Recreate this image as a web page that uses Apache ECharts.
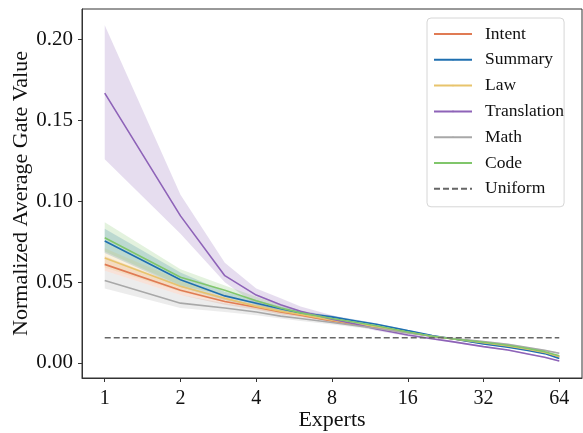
<!DOCTYPE html>
<html>
<head>
<meta charset="utf-8">
<script src="https://cdn.jsdelivr.net/npm/echarts@6/dist/echarts.min.js"></script>
<style>
  html, body { margin: 0; padding: 0; background: #fff; }
  #chart { width: 583px; height: 433px; }
</style>
</head>
<body>
<div id="chart"></div>
<script>
// expert rank (x) and the tick labels on the log2 axis
const experts = [1, 2, 3, 4, 5, 6, 8, 10, 12, 16, 20, 24, 32, 40, 48, 56, 64];
const xTicks = [1, 2, 4, 8, 16, 32, 64];
const yTicks = [0, 0.05, 0.1, 0.15, 0.2];
const uniformValue = 1 / 64;

// mean gate value per task, with lower / upper band
const intentMean = [0.061, 0.045, 0.038, 0.0345, 0.0315, 0.0295, 0.026, 0.0235, 0.022, 0.0188, 0.0165, 0.015, 0.0123, 0.0103, 0.0083, 0.0063, 0.0038];
const intentLow = [0.057, 0.042, 0.036, 0.033, 0.030, 0.0285, 0.0253, 0.023, 0.0215, 0.0185, 0.0162, 0.0147, 0.0120, 0.0100, 0.0080, 0.0060, 0.0034];
const intentHigh = [0.066, 0.048, 0.040, 0.036, 0.033, 0.0305, 0.0267, 0.024, 0.0225, 0.0191, 0.0168, 0.0153, 0.0126, 0.0106, 0.0086, 0.0066, 0.0042];

const summaryMean = [0.0755, 0.0515, 0.0415, 0.037, 0.0335, 0.031, 0.0285, 0.026, 0.024, 0.020, 0.017, 0.015, 0.0118, 0.0098, 0.0078, 0.0058, 0.0028];
const summaryLow = [0.068, 0.047, 0.039, 0.035, 0.032, 0.0298, 0.0277, 0.0253, 0.0234, 0.0196, 0.0167, 0.0147, 0.0115, 0.0095, 0.0075, 0.0055, 0.0024];
const summaryHigh = [0.083, 0.056, 0.044, 0.039, 0.035, 0.0322, 0.0293, 0.0267, 0.0246, 0.0204, 0.0173, 0.0153, 0.0121, 0.0101, 0.0081, 0.0061, 0.0032];

const lawMean = [0.065, 0.0475, 0.040, 0.035, 0.032, 0.030, 0.0265, 0.024, 0.0225, 0.019, 0.0165, 0.015, 0.0125, 0.0105, 0.0085, 0.0065, 0.0040];
const lawLow = [0.059, 0.044, 0.0375, 0.0335, 0.0305, 0.0288, 0.0257, 0.0234, 0.022, 0.0186, 0.0162, 0.0147, 0.0122, 0.0102, 0.0082, 0.0062, 0.0036];
const lawHigh = [0.071, 0.051, 0.0425, 0.0365, 0.0335, 0.0312, 0.0273, 0.0246, 0.023, 0.0194, 0.0168, 0.0153, 0.0128, 0.0108, 0.0088, 0.0068, 0.0044];

const translationMean = [0.167, 0.091, 0.054, 0.042, 0.036, 0.032, 0.027, 0.024, 0.021, 0.0173, 0.0150, 0.0132, 0.0101, 0.0080, 0.0056, 0.0035, 0.0012];
const translationLow = [0.126, 0.080, 0.050, 0.036, 0.033, 0.0295, 0.025, 0.0228, 0.020, 0.0166, 0.0144, 0.0127, 0.0097, 0.0076, 0.0052, 0.0031, 0.0008];
const translationHigh = [0.209, 0.104, 0.062, 0.046, 0.040, 0.035, 0.0295, 0.0255, 0.0222, 0.018, 0.0156, 0.0137, 0.0105, 0.0084, 0.0060, 0.0039, 0.0016];

const mathMean = [0.051, 0.037, 0.034, 0.0315, 0.029, 0.0275, 0.025, 0.023, 0.0215, 0.0185, 0.0165, 0.0152, 0.0132, 0.0115, 0.0095, 0.0078, 0.006];
const mathLow = [0.046, 0.034, 0.0315, 0.0295, 0.0275, 0.026, 0.0238, 0.022, 0.0207, 0.018, 0.016, 0.0148, 0.0128, 0.0111, 0.0091, 0.0074, 0.0055];
const mathHigh = [0.057, 0.042, 0.037, 0.034, 0.031, 0.029, 0.0262, 0.024, 0.0223, 0.019, 0.017, 0.0156, 0.0136, 0.0119, 0.0099, 0.0082, 0.0065];

const codeMean = [0.0775, 0.053, 0.045, 0.0385, 0.034, 0.031, 0.0275, 0.025, 0.023, 0.0192, 0.0165, 0.015, 0.0128, 0.011, 0.009, 0.007, 0.0045];
const codeLow = [0.069, 0.048, 0.042, 0.036, 0.032, 0.0295, 0.0265, 0.0242, 0.0224, 0.0187, 0.0161, 0.0146, 0.0124, 0.0106, 0.0086, 0.0066, 0.0040];
const codeHigh = [0.087, 0.058, 0.048, 0.041, 0.036, 0.0325, 0.0285, 0.0258, 0.0236, 0.0197, 0.0169, 0.0154, 0.0132, 0.0114, 0.0094, 0.0074, 0.0050];

const tasks = [
  { name: 'Intent', color: '#e07b54', mean: intentMean, low: intentLow, high: intentHigh },
  { name: 'Summary', color: '#1f6fb0', mean: summaryMean, low: summaryLow, high: summaryHigh },
  { name: 'Law', color: '#e8c46c', mean: lawMean, low: lawLow, high: lawHigh },
  { name: 'Translation', color: '#8e63b8', mean: translationMean, low: translationLow, high: translationHigh },
  { name: 'Math', color: '#a8a8a8', mean: mathMean, low: mathLow, high: mathHigh },
  { name: 'Code', color: '#80c66b', mean: codeMean, low: codeLow, high: codeHigh }
];

const FONT = '"Liberation Serif", "Times New Roman", serif';

function log2(v) {
  return Math.log(v) / Math.LN2;
}

function pairs(values) {
  let out = [];
  for (var i = 0; i < experts.length; i++) {
    out.push([log2(experts[i]), values[i]]);
  }
  return out;
}

// band polygon: walk the upper edge forward, the lower edge back
function buildBandRender(t) {
  return function (params, api) {
    if (params.dataIndex !== 0) {
      return null;
    }
    let pts = [];
    for (var i = 0; i < experts.length; i++) {
      pts.push(api.coord([log2(experts[i]), t.high[i]]));
    }
    for (var j = experts.length - 1; j >= 0; j--) {
      pts.push(api.coord([log2(experts[j]), t.low[j]]));
    }
    return {
      type: 'polygon',
      shape: { points: pts },
      style: { fill: t.color, opacity: 0.22 },
      silent: true
    };
  };
}

let seriesList = [];
tasks.forEach(function (t, k) {
  let rows = [];
  for (var i = 0; i < experts.length; i++) {
    rows.push([log2(experts[i]), t.low[i], t.high[i]]);
  }
  seriesList.push({
    name: 'band_' + k,
    type: 'custom',
    data: rows,
    encode: { x: 0, y: [1, 2] },
    renderItem: buildBandRender(t),
    clip: true,
    silent: true,
    z: 1
  });
});
tasks.forEach(function (t) {
  seriesList.push({
    name: t.name,
    type: 'line',
    data: pairs(t.mean),
    symbol: 'none',
    color: t.color,
    lineStyle: { color: t.color, width: 1.6 },
    z: 3
  });
});
seriesList.push({
  name: 'Uniform',
  type: 'line',
  data: [[log2(experts[0]), uniformValue], [log2(experts[experts.length - 1]), uniformValue]],
  symbol: 'none',
  color: '#666666',
  lineStyle: { color: '#666666', width: 1.6, type: [6, 3] },
  z: 4
});

let legendNames = [];
for (var t of tasks) {
  legendNames.push(t.name);
}
legendNames.push('Uniform');

let xTickPos = [];
for (var v of xTicks) {
  xTickPos.push(log2(v));
}

const chart = echarts.init(document.getElementById('chart'), null, { renderer: 'canvas' });
chart.setOption({
  animation: false,
  backgroundColor: '#fff',
  grid: {
    left: 82, right: 1, top: 9, bottom: 55,
    outerBoundsMode: 'none',
    containLabel: false,
    show: true, borderColor: '#333', borderWidth: 1
  },
  legend: {
    data: legendNames,
    orient: 'vertical',
    left: 427,
    top: 18,
    padding: [7, 0, 9, 6],
    itemWidth: 38,
    itemHeight: 2,
    itemGap: 7.8,
    borderColor: '#d6d6d6',
    borderWidth: 1,
    borderRadius: 4,
    backgroundColor: '#fff',
    textStyle: { fontFamily: FONT, fontSize: 17.5, color: '#111', padding: [0, 0, 0, 8] }
  },
  xAxis: {
    type: 'value',
    min: -0.3,
    max: 6.3,
    name: 'Experts',
    nameLocation: 'middle',
    nameGap: 31,
    nameMoveOverlap: false,
    nameTextStyle: { fontFamily: FONT, fontSize: 22, color: '#111' },
    axisLine: { onZero: false, lineStyle: { color: '#333', width: 1 } },
    axisTick: { show: true, length: 4, customValues: xTickPos, lineStyle: { color: '#333' } },
    axisLabel: {
      customValues: xTickPos,
      margin: 11,
      fontFamily: FONT, fontSize: 20, color: '#111',
      formatter: function (val) { return String(Math.round(Math.pow(2, val))); }
    },
    splitLine: { show: false }
  },
  yAxis: {
    type: 'value',
    min: -0.0093,
    max: 0.219,
    name: 'Normalized Average Gate Value',
    nameLocation: 'middle',
    nameGap: 50,
    nameMoveOverlap: false,
    nameTextStyle: { fontFamily: FONT, fontSize: 22, color: '#111' },
    axisLine: { show: true, onZero: false, lineStyle: { color: '#333', width: 1 } },
    axisTick: { show: true, length: 4, customValues: yTicks, lineStyle: { color: '#333' } },
    axisLabel: {
      customValues: yTicks,
      margin: 9,
      fontFamily: FONT, fontSize: 21, color: '#111',
      formatter: function (val) { return val.toFixed(2); }
    },
    splitLine: { show: false }
  },
  series: seriesList
});
</script>
</body>
</html>
